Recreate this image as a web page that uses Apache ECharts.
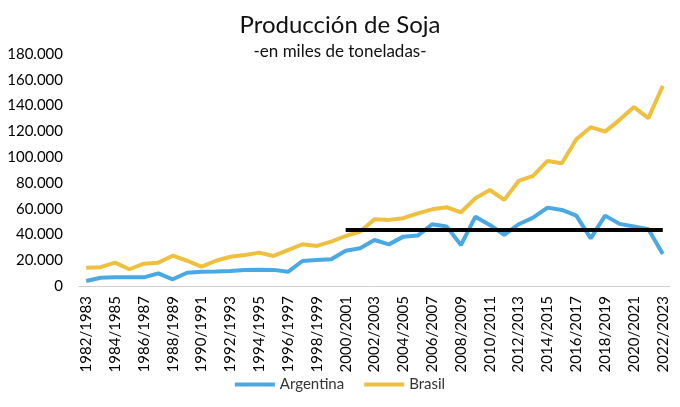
<!DOCTYPE html>
<html>
<head>
<meta charset="utf-8">
<script src="https://cdn.jsdelivr.net/npm/echarts@6/dist/echarts.min.js"></script>
<style>html,body{margin:0;padding:0;background:#fff}#c{width:680px;height:407px}</style>
</head>
<body>
<div id="c"></div>
<script>
const categories = ['1982/1983','1983/1984','1984/1985','1985/1986','1986/1987','1987/1988','1988/1989','1989/1990','1990/1991','1991/1992','1992/1993','1993/1994','1994/1995','1995/1996','1996/1997','1997/1998','1998/1999','1999/2000','2000/2001','2001/2002','2002/2003','2003/2004','2004/2005','2005/2006','2006/2007','2007/2008','2008/2009','2009/2010','2010/2011','2011/2012','2012/2013','2013/2014','2014/2015','2015/2016','2016/2017','2017/2018','2018/2019','2019/2020','2020/2021','2021/2022','2022/2023'];
const argentina = [3900,6400,6700,6700,6700,9800,5200,10300,11100,11200,11600,12400,12600,12500,11000,19400,20200,20700,27400,29300,35700,32300,38300,39100,47900,46100,31800,53800,47400,39600,47900,53000,60800,59000,54600,37000,54600,48200,46100,44000,24900];
const brasil = [14200,14600,18100,13000,17300,18100,23500,19600,15000,19600,22700,24100,25900,23300,27900,32400,31100,34400,38800,42200,51800,51300,52600,56400,59500,61100,57200,68100,74500,66800,81500,85400,97000,95300,113900,123200,119800,128900,138800,130200,155300];
const promedio = 43600;
const promedioDesde = '2000/2001';
const promedioHasta = '2022/2023';
const yTicks = {min: 0, max: 180000, step: 20000};

const fmt = v => String(v).replace(/\B(?=(\d{3})+(?!\d))/g, '.');
const font = 'Lato, "Open Sans", sans-serif';
const chart = echarts.init(document.getElementById('c'), null, {renderer: 'canvas'});
chart.setOption({
  animation: false,
  backgroundColor: '#ffffff',
  title: [
    {text: 'Producción de Soja', left: 'center', top: 8, textStyle: {fontFamily: font, fontSize: 24, fontWeight: 'normal', color: '#111'}},
    {text: '-en miles de toneladas-', left: 'center', top: 38, textStyle: {fontFamily: font, fontSize: 17, fontWeight: 'normal', color: '#111'}}
  ],
  legend: {
    bottom: 10, left: 'center',
    itemWidth: 40, itemHeight: 4, itemGap: 20,
    icon: 'rect',
    textStyle: {fontFamily: font, fontSize: 15, color: '#333'},
    data: ['Argentina', 'Brasil']
  },
  grid: {left: 79, right: 10, top: 54, bottom: 121, containLabel: false, outerBoundsMode: 'none'},
  xAxis: {
    type: 'category', data: categories, boundaryGap: true,
    axisLine: {lineStyle: {color: '#d0d0d0', width: 1}},
    axisTick: {show: false},
    axisLabel: {rotate: 90, interval: 1, margin: 10, fontFamily: font, fontSize: 15, color: '#000'}
  },
  yAxis: {
    type: 'value', min: yTicks.min, max: yTicks.max, interval: yTicks.step,
    axisLine: {show: false}, axisTick: {show: false}, splitLine: {show: false},
    axisLabel: {margin: 16, fontFamily: font, fontSize: 15, color: '#000', formatter: fmt}
  },
  series: [
    {
      name: 'Argentina', type: 'line', data: argentina, symbol: 'none',
      lineStyle: {width: 4, color: '#4aa8e2'}, itemStyle: {color: '#4aa8e2'}, z: 3,
      markLine: {
        silent: true, symbol: 'none', label: {show: false},
        lineStyle: {color: '#000', width: 4, type: 'solid'},
        data: [[{coord: [promedioDesde, promedio]}, {coord: [promedioHasta, promedio]}]]
      }
    },
    {
      name: 'Brasil', type: 'line', data: brasil, symbol: 'none',
      lineStyle: {width: 4, color: '#efc03f'}, itemStyle: {color: '#efc03f'}, z: 2
    }
  ]
});
</script>
</body>
</html>
